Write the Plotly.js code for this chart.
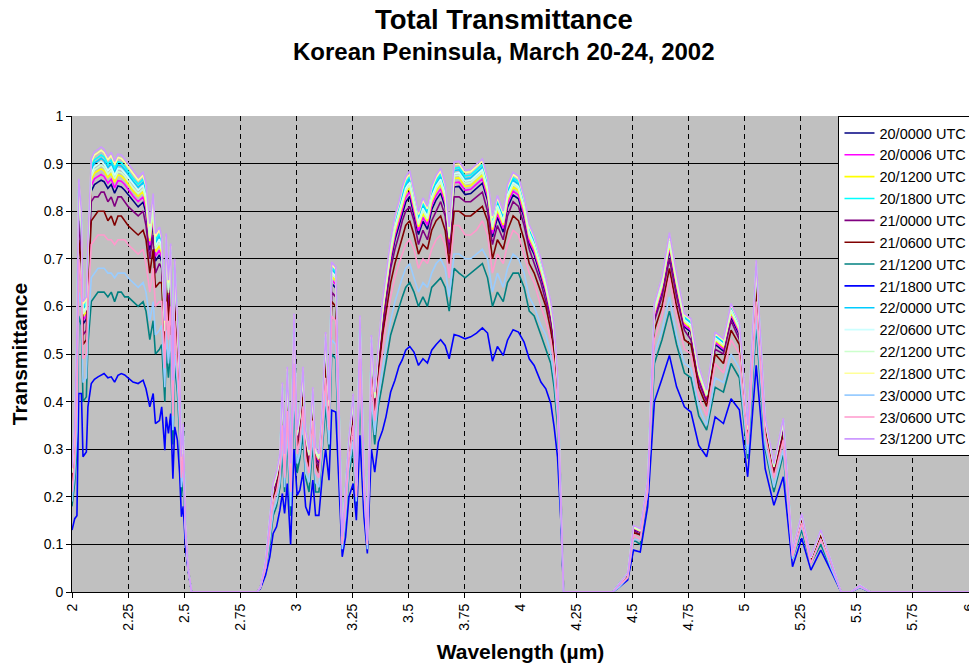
<!DOCTYPE html>
<html>
<head>
<meta charset="utf-8">
<script src="https://cdn.plot.ly/plotly-3.0.1.min.js"></script>
<style>html,body{margin:0;padding:0;background:#fff;}#chart{width:969px;height:669px;}</style>
</head>
<body>
<div id="chart"></div>
<script>
// Wavelength (µm)
const wavelength = [
2.000,2.012,2.022,2.030,2.042,2.049,2.064,2.071,2.086,2.100,
2.116,2.130,2.143,2.160,2.175,2.190,2.205,2.220,2.235,2.250,
2.272,2.295,2.317,2.330,2.347,2.362,2.372,2.390,2.400,2.414,
2.420,2.430,2.440,2.450,2.458,2.470,2.480,2.488,2.496,2.506,
2.518,2.533,2.826,2.840,2.863,2.882,2.897,2.912,2.927,2.938,
2.948,2.960,2.975,2.990,3.004,3.016,3.030,3.042,3.057,3.074,
3.086,3.101,3.116,3.131,3.146,3.158,3.176,3.205,3.220,3.235,
3.254,3.268,3.284,3.302,3.317,3.335,3.350,3.366,3.385,3.400,
3.421,3.440,3.458,3.473,3.488,3.506,3.525,3.545,3.565,3.585,
3.604,3.624,3.644,3.664,3.682,3.704,3.726,3.753,3.778,3.804,
3.830,3.853,3.875,3.897,3.923,3.942,3.967,3.991,4.016,4.039,
4.061,4.091,4.113,4.135,4.150,4.165,4.180,4.192,4.411,4.440,
4.478,4.504,4.534,4.567,4.597,4.631,4.664,4.696,4.731,4.760,
4.795,4.830,4.868,4.905,4.939,4.976,5.013,5.051,5.091,5.130,
5.172,5.213,5.254,5.295,5.339,5.385,5.430,5.473,5.513,5.560,6.000];

const s20_0000 = [
0.241,0.322,0.493,0.803,0.744,0.563,0.573,0.689,0.842,0.856,
0.861,0.865,0.862,0.848,0.856,0.838,0.853,0.851,0.844,0.835,
0.821,0.809,0.819,0.796,0.718,0.776,0.695,0.708,0.694,0.531,
0.697,0.608,0.68,0.415,0.649,0.547,0.441,0.266,0.329,0.137,
0.049,0,0,0.01,0.062,0.146,0.213,0.235,0.273,0.406,
0.272,0.437,0.245,0.544,0.32,0.356,0.441,0.317,0.278,0.402,
0.284,0.271,0.368,0.51,0.379,0.648,0.639,0.11,0.20,0.308,
0.39,0.217,0.544,0.248,0.105,0.505,0.396,0.49,0.573,0.626,
0.694,0.74,0.77,0.798,0.819,0.831,0.795,0.751,0.779,0.762,
0.803,0.824,0.838,0.809,0.727,0.851,0.852,0.835,0.837,0.847,
0.859,0.823,0.746,0.787,0.756,0.808,0.834,0.826,0.786,0.731,
0.709,0.662,0.626,0.579,0.529,0.434,0.21,0,0,0.017,
0.038,0.132,0.126,0.227,0.576,0.631,0.718,0.635,0.557,0.546,
0.449,0.404,0.52,0.506,0.577,0.54,0.334,0.665,0.352,0.257,
0.347,0.083,0.158,0.07,0.124,0.062,0,0,0.013,0,0];

const s20_0006 = [
0.244,0.326,0.503,0.814,0.754,0.571,0.581,0.698,0.853,0.868,
0.873,0.877,0.873,0.859,0.867,0.849,0.864,0.863,0.856,0.846,
0.832,0.82,0.83,0.806,0.728,0.787,0.705,0.718,0.703,0.537,
0.707,0.616,0.689,0.42,0.658,0.553,0.446,0.269,0.333,0.138,
0.049,0,0,0.01,0.062,0.148,0.215,0.238,0.276,0.412,
0.275,0.444,0.25,0.551,0.324,0.36,0.446,0.321,0.282,0.407,
0.288,0.275,0.371,0.516,0.383,0.656,0.646,0.111,0.202,0.311,
0.394,0.219,0.551,0.25,0.106,0.511,0.40,0.495,0.58,0.634,
0.702,0.749,0.779,0.807,0.828,0.841,0.803,0.759,0.787,0.771,
0.812,0.833,0.847,0.817,0.734,0.86,0.861,0.844,0.846,0.856,
0.868,0.831,0.753,0.795,0.764,0.816,0.842,0.834,0.793,0.738,
0.715,0.669,0.632,0.584,0.534,0.439,0.212,0,0,0.017,
0.038,0.134,0.127,0.228,0.581,0.636,0.724,0.641,0.561,0.55,
0.453,0.407,0.525,0.511,0.582,0.545,0.337,0.67,0.355,0.259,
0.35,0.084,0.159,0.071,0.125,0.063,0,0,0.013,0,0];

const s20_1200 = [
0.248,0.331,0.513,0.825,0.764,0.579,0.589,0.707,0.865,0.88,
0.885,0.889,0.885,0.871,0.879,0.861,0.876,0.874,0.867,0.857,
0.843,0.831,0.841,0.817,0.737,0.797,0.715,0.728,0.712,0.544,
0.716,0.624,0.698,0.425,0.666,0.56,0.452,0.272,0.337,0.139,
0.05,0,0,0.01,0.063,0.15,0.218,0.241,0.279,0.418,
0.278,0.45,0.254,0.558,0.327,0.364,0.452,0.325,0.285,0.411,
0.291,0.278,0.375,0.523,0.387,0.663,0.654,0.112,0.205,0.314,
0.399,0.221,0.557,0.253,0.106,0.517,0.404,0.501,0.587,0.641,
0.71,0.757,0.787,0.817,0.838,0.85,0.812,0.767,0.796,0.779,
0.82,0.842,0.856,0.826,0.741,0.869,0.87,0.852,0.854,0.864,
0.876,0.839,0.761,0.803,0.771,0.824,0.851,0.843,0.801,0.745,
0.722,0.675,0.638,0.59,0.54,0.443,0.213,0,0,0.017,
0.039,0.135,0.128,0.23,0.586,0.642,0.73,0.647,0.566,0.555,
0.457,0.411,0.529,0.515,0.587,0.55,0.34,0.676,0.358,0.262,
0.353,0.085,0.16,0.071,0.126,0.063,0,0,0.014,0,0];

const s20_1800 = [
0.255,0.343,0.536,0.852,0.787,0.599,0.609,0.728,0.893,0.908,
0.913,0.918,0.914,0.899,0.907,0.889,0.904,0.902,0.894,0.884,
0.869,0.857,0.867,0.843,0.761,0.822,0.739,0.753,0.734,0.56,
0.74,0.644,0.72,0.438,0.688,0.576,0.465,0.28,0.348,0.142,
0.05,0,0,0.01,0.065,0.155,0.224,0.248,0.286,0.432,
0.286,0.464,0.264,0.575,0.335,0.374,0.465,0.334,0.293,0.423,
0.30,0.285,0.384,0.537,0.397,0.682,0.672,0.115,0.211,0.322,
0.41,0.225,0.572,0.259,0.108,0.532,0.414,0.513,0.603,0.659,
0.729,0.778,0.808,0.838,0.859,0.872,0.832,0.787,0.816,0.798,
0.841,0.864,0.877,0.846,0.757,0.89,0.892,0.874,0.876,0.886,
0.898,0.859,0.779,0.822,0.789,0.844,0.87,0.862,0.819,0.762,
0.738,0.691,0.652,0.603,0.553,0.454,0.218,0,0,0.018,
0.04,0.138,0.131,0.233,0.599,0.655,0.746,0.662,0.578,0.567,
0.467,0.419,0.54,0.526,0.599,0.561,0.346,0.689,0.364,0.267,
0.361,0.087,0.163,0.073,0.129,0.064,0,0,0.014,0,0];

const s21_0000 = [
0.23,0.31,0.47,0.78,0.72,0.54,0.55,0.67,0.82,0.83,
0.83,0.84,0.84,0.82,0.83,0.81,0.83,0.83,0.82,0.81,
0.80,0.79,0.80,0.77,0.70,0.75,0.67,0.69,0.68,0.52,
0.68,0.59,0.66,0.40,0.63,0.53,0.43,0.26,0.32,0.13,
0.05,0,0,0.01,0.06,0.14,0.21,0.23,0.27,0.39,
0.27,0.42,0.24,0.53,0.31,0.35,0.43,0.31,0.27,0.39,
0.28,0.26,0.36,0.50,0.37,0.63,0.62,0.11,0.19,0.30,
0.38,0.21,0.53,0.24,0.10,0.49,0.39,0.48,0.56,0.61,
0.68,0.72,0.75,0.78,0.80,0.81,0.78,0.73,0.76,0.74,
0.78,0.80,0.82,0.79,0.71,0.83,0.83,0.82,0.82,0.83,
0.84,0.80,0.73,0.77,0.74,0.79,0.82,0.81,0.77,0.72,
0.69,0.65,0.61,0.57,0.52,0.43,0.21,0,0,0.016,
0.037,0.13,0.12,0.22,0.57,0.62,0.70,0.62,0.55,0.53,
0.44,0.40,0.51,0.50,0.57,0.53,0.33,0.65,0.35,0.25,
0.34,0.081,0.155,0.068,0.122,0.061,0,0,0.013,0,0];

const s21_0600 = [
0.22,0.30,0.44,0.74,0.69,0.52,0.53,0.64,0.78,0.79,
0.80,0.80,0.80,0.78,0.79,0.77,0.79,0.79,0.78,0.77,
0.76,0.75,0.76,0.74,0.67,0.72,0.64,0.65,0.65,0.49,
0.65,0.57,0.63,0.39,0.60,0.51,0.41,0.25,0.31,0.13,
0.05,0,0,0.01,0.06,0.13,0.20,0.22,0.26,0.38,
0.26,0.40,0.22,0.51,0.30,0.33,0.41,0.30,0.26,0.38,
0.27,0.25,0.35,0.48,0.36,0.61,0.60,0.10,0.19,0.29,
0.36,0.21,0.51,0.23,0.10,0.47,0.37,0.46,0.54,0.59,
0.65,0.69,0.72,0.75,0.77,0.78,0.75,0.71,0.73,0.72,
0.76,0.78,0.79,0.76,0.69,0.80,0.80,0.79,0.79,0.80,
0.81,0.78,0.70,0.74,0.72,0.76,0.79,0.78,0.74,0.69,
0.67,0.63,0.60,0.55,0.50,0.41,0.20,0,0,0.016,
0.036,0.125,0.12,0.22,0.55,0.60,0.68,0.60,0.53,0.52,
0.43,0.39,0.50,0.48,0.55,0.52,0.32,0.64,0.34,0.25,
0.33,0.078,0.15,0.066,0.12,0.06,0,0,0.013,0,0];

const s21_1200 = [
0.18,0.23,0.30,0.58,0.56,0.40,0.41,0.52,0.61,0.62,
0.63,0.63,0.63,0.62,0.63,0.61,0.63,0.63,0.62,0.62,
0.61,0.60,0.61,0.59,0.53,0.57,0.50,0.51,0.52,0.40,
0.51,0.45,0.51,0.31,0.48,0.42,0.33,0.20,0.24,0.11,
0.05,0,0,0.01,0.05,0.10,0.16,0.18,0.22,0.29,
0.21,0.32,0.16,0.41,0.25,0.28,0.33,0.24,0.21,0.31,
0.21,0.21,0.30,0.39,0.30,0.50,0.49,0.09,0.15,0.25,
0.30,0.18,0.42,0.20,0.09,0.39,0.31,0.39,0.44,0.48,
0.54,0.57,0.60,0.62,0.64,0.65,0.63,0.60,0.62,0.60,
0.64,0.65,0.66,0.64,0.59,0.68,0.67,0.66,0.67,0.68,
0.69,0.66,0.60,0.63,0.61,0.65,0.67,0.67,0.64,0.59,
0.58,0.54,0.51,0.48,0.43,0.35,0.18,0,0,0.01,
0.03,0.11,0.10,0.20,0.48,0.53,0.59,0.52,0.46,0.45,
0.37,0.34,0.43,0.42,0.48,0.45,0.28,0.56,0.30,0.21,
0.29,0.07,0.13,0.06,0.10,0.05,0,0,0.01,0,0];

const s21_1800 = [
0.13,0.154,0.16,0.417,0.417,0.284,0.294,0.389,0.438,0.447,
0.452,0.455,0.459,0.45,0.452,0.441,0.455,0.459,0.456,0.45,
0.441,0.438,0.445,0.427,0.389,0.417,0.354,0.36,0.389,0.298,
0.368,0.333,0.375,0.238,0.347,0.319,0.249,0.158,0.18,0.095,
0.045,0,0,0.007,0.035,0.074,0.123,0.137,0.172,0.207,
0.165,0.228,0.10,0.30,0.203,0.214,0.252,0.179,0.161,0.235,
0.161,0.161,0.242,0.30,0.235,0.382,0.378,0.074,0.116,0.20,
0.228,0.151,0.329,0.158,0.081,0.30,0.252,0.315,0.34,0.368,
0.42,0.445,0.474,0.488,0.508,0.516,0.504,0.476,0.49,0.481,
0.508,0.52,0.53,0.518,0.49,0.541,0.538,0.532,0.536,0.544,
0.555,0.544,0.485,0.516,0.497,0.529,0.551,0.546,0.525,0.49,
0.476,0.441,0.427,0.396,0.347,0.284,0.15,0,0,0.01,
0.025,0.088,0.084,0.179,0.40,0.448,0.497,0.431,0.389,0.378,
0.308,0.284,0.368,0.354,0.406,0.383,0.242,0.476,0.259,0.182,
0.242,0.053,0.113,0.046,0.088,0.044,0,0,0.01,0,0];

const s22_0000 = [
0.254,0.34,0.53,0.845,0.781,0.594,0.604,0.722,0.886,0.901,
0.906,0.911,0.906,0.892,0.90,0.882,0.897,0.895,0.887,0.877,
0.863,0.85,0.86,0.836,0.755,0.816,0.733,0.747,0.728,0.556,
0.734,0.639,0.714,0.435,0.682,0.572,0.462,0.278,0.345,0.142,
0.05,0,0,0.01,0.064,0.154,0.223,0.246,0.284,0.428,
0.284,0.461,0.261,0.571,0.333,0.372,0.462,0.332,0.291,0.42,
0.298,0.284,0.382,0.534,0.395,0.677,0.668,0.114,0.209,0.32,
0.408,0.224,0.568,0.258,0.108,0.528,0.412,0.51,0.599,0.655,
0.724,0.773,0.803,0.833,0.854,0.867,0.827,0.782,0.811,0.794,
0.836,0.858,0.872,0.841,0.753,0.885,0.887,0.868,0.87,0.88,
0.892,0.854,0.775,0.817,0.785,0.839,0.865,0.857,0.815,0.758,
0.734,0.687,0.648,0.599,0.549,0.451,0.216,0,0,0.018,
0.039,0.137,0.131,0.232,0.596,0.651,0.742,0.658,0.575,0.564,
0.465,0.417,0.537,0.523,0.596,0.558,0.345,0.686,0.363,0.266,
0.359,0.086,0.162,0.073,0.128,0.064,0,0,0.014,0,0];

const s22_0600 = [
0.252,0.337,0.525,0.839,0.775,0.589,0.599,0.717,0.879,0.894,
0.899,0.904,0.899,0.885,0.893,0.875,0.89,0.888,0.88,0.871,
0.856,0.844,0.854,0.83,0.749,0.81,0.727,0.741,0.723,0.552,
0.728,0.634,0.709,0.432,0.677,0.568,0.458,0.276,0.343,0.141,
0.05,0,0,0.01,0.064,0.153,0.221,0.245,0.282,0.425,
0.282,0.457,0.259,0.566,0.331,0.369,0.459,0.33,0.289,0.417,
0.296,0.282,0.379,0.53,0.392,0.673,0.663,0.113,0.208,0.318,
0.405,0.223,0.565,0.256,0.107,0.524,0.409,0.507,0.595,0.65,
0.719,0.768,0.798,0.827,0.848,0.861,0.822,0.777,0.806,0.789,
0.831,0.853,0.867,0.836,0.749,0.879,0.881,0.863,0.865,0.875,
0.887,0.849,0.77,0.812,0.78,0.834,0.86,0.852,0.81,0.754,
0.73,0.683,0.645,0.596,0.546,0.449,0.215,0,0,0.017,
0.039,0.137,0.13,0.231,0.593,0.648,0.738,0.654,0.572,0.561,
0.462,0.415,0.534,0.52,0.593,0.555,0.343,0.683,0.361,0.264,
0.357,0.086,0.162,0.072,0.127,0.064,0,0,0.014,0,0];

const s22_1200 = [
0.25,0.334,0.519,0.832,0.769,0.584,0.594,0.712,0.872,0.887,
0.892,0.897,0.892,0.878,0.886,0.868,0.883,0.881,0.874,0.864,
0.849,0.837,0.847,0.824,0.743,0.803,0.721,0.734,0.717,0.548,
0.722,0.629,0.703,0.428,0.672,0.564,0.455,0.274,0.34,0.14,
0.05,0,0,0.01,0.064,0.151,0.22,0.243,0.281,0.421,
0.28,0.453,0.256,0.562,0.329,0.367,0.455,0.327,0.287,0.414,
0.293,0.28,0.377,0.526,0.39,0.668,0.659,0.113,0.206,0.316,
0.402,0.222,0.561,0.255,0.107,0.521,0.407,0.504,0.591,0.646,
0.714,0.762,0.792,0.822,0.843,0.855,0.817,0.772,0.801,0.784,
0.825,0.848,0.861,0.831,0.745,0.874,0.876,0.858,0.86,0.87,
0.882,0.844,0.766,0.808,0.776,0.829,0.856,0.848,0.806,0.749,
0.726,0.679,0.641,0.593,0.543,0.446,0.214,0,0,0.017,
0.039,0.136,0.129,0.231,0.59,0.645,0.734,0.651,0.569,0.558,
0.46,0.413,0.532,0.518,0.59,0.552,0.341,0.679,0.359,0.263,
0.355,0.085,0.161,0.072,0.127,0.063,0,0,0.014,0,0];

const s22_1800 = [
0.258,0.347,0.544,0.861,0.794,0.605,0.615,0.735,0.903,0.918,
0.923,0.928,0.923,0.908,0.917,0.898,0.913,0.911,0.903,0.893,
0.878,0.865,0.875,0.852,0.768,0.831,0.747,0.761,0.741,0.566,
0.747,0.65,0.727,0.442,0.695,0.581,0.47,0.282,0.351,0.143,
0.05,0,0,0.01,0.066,0.157,0.226,0.25,0.288,0.437,
0.288,0.469,0.267,0.581,0.338,0.378,0.47,0.338,0.296,0.427,
0.303,0.288,0.387,0.542,0.40,0.688,0.678,0.115,0.213,0.324,
0.414,0.227,0.577,0.261,0.109,0.536,0.417,0.517,0.609,0.665,
0.735,0.785,0.815,0.846,0.867,0.879,0.839,0.793,0.823,0.805,
0.848,0.871,0.885,0.853,0.763,0.898,0.899,0.881,0.883,0.893,
0.905,0.865,0.785,0.828,0.795,0.85,0.877,0.869,0.825,0.768,
0.744,0.696,0.657,0.607,0.557,0.457,0.219,0,0,0.018,
0.04,0.139,0.132,0.234,0.603,0.659,0.751,0.666,0.582,0.571,
0.471,0.422,0.543,0.529,0.603,0.564,0.348,0.694,0.366,0.269,
0.363,0.088,0.164,0.074,0.129,0.065,0,0,0.014,0,0];

const s23_0000 = [
0.19,0.25,0.34,0.63,0.60,0.44,0.45,0.55,0.66,0.67,
0.68,0.68,0.68,0.67,0.67,0.66,0.67,0.67,0.67,0.66,
0.65,0.64,0.65,0.63,0.57,0.61,0.54,0.55,0.56,0.43,
0.55,0.48,0.54,0.34,0.51,0.44,0.35,0.22,0.26,0.12,
0.05,0,0,0.01,0.05,0.11,0.17,0.19,0.23,0.32,
0.22,0.34,0.18,0.43,0.27,0.29,0.36,0.25,0.23,0.33,
0.23,0.22,0.31,0.42,0.31,0.53,0.52,0.09,0.16,0.26,
0.32,0.19,0.45,0.21,0.09,0.41,0.33,0.41,0.47,0.51,
0.57,0.61,0.64,0.66,0.68,0.69,0.66,0.63,0.65,0.64,
0.67,0.69,0.70,0.68,0.62,0.71,0.71,0.70,0.70,0.71,
0.72,0.70,0.63,0.67,0.64,0.68,0.71,0.70,0.67,0.62,
0.60,0.56,0.54,0.50,0.45,0.37,0.18,0,0,0.01,
0.03,0.11,0.11,0.21,0.50,0.55,0.62,0.54,0.48,0.47,
0.39,0.35,0.45,0.44,0.50,0.47,0.29,0.58,0.31,0.22,
0.30,0.07,0.14,0.06,0.11,0.05,0,0,0.01,0,0];

const s23_0600 = [
0.21,0.28,0.40,0.70,0.65,0.49,0.50,0.61,0.73,0.74,
0.75,0.75,0.75,0.74,0.74,0.73,0.74,0.74,0.74,0.73,
0.72,0.71,0.72,0.69,0.63,0.68,0.60,0.61,0.61,0.47,
0.61,0.53,0.60,0.37,0.57,0.48,0.39,0.24,0.29,0.13,
0.05,0,0,0.01,0.05,0.13,0.19,0.21,0.25,0.35,
0.24,0.38,0.21,0.48,0.29,0.32,0.39,0.28,0.25,0.36,
0.25,0.24,0.33,0.45,0.34,0.58,0.57,0.10,0.18,0.28,
0.35,0.20,0.49,0.22,0.10,0.45,0.36,0.44,0.51,0.56,
0.62,0.66,0.69,0.71,0.73,0.74,0.72,0.68,0.70,0.69,
0.72,0.74,0.75,0.73,0.66,0.77,0.77,0.75,0.75,0.76,
0.78,0.75,0.67,0.71,0.69,0.73,0.76,0.75,0.71,0.67,
0.65,0.60,0.57,0.53,0.48,0.39,0.19,0,0,0.015,
0.03,0.12,0.11,0.21,0.53,0.58,0.66,0.58,0.51,0.50,
0.41,0.37,0.48,0.46,0.53,0.50,0.31,0.61,0.33,0.24,
0.32,0.075,0.145,0.06,0.11,0.06,0,0,0.012,0,0];

const s23_1200 = [
0.26,0.35,0.55,0.868,0.80,0.61,0.62,0.74,0.91,0.925,
0.93,0.935,0.93,0.915,0.924,0.905,0.92,0.918,0.91,0.90,
0.885,0.872,0.882,0.858,0.774,0.837,0.753,0.767,0.746,0.57,
0.753,0.655,0.732,0.445,0.70,0.585,0.473,0.284,0.354,0.144,
0.05,0,0,0.01,0.066,0.158,0.228,0.252,0.29,0.44,
0.29,0.473,0.27,0.585,0.34,0.38,0.473,0.34,0.298,0.43,
0.305,0.29,0.389,0.546,0.403,0.693,0.683,0.116,0.214,0.326,
0.417,0.228,0.581,0.263,0.109,0.54,0.42,0.52,0.613,0.67,
0.74,0.79,0.82,0.851,0.872,0.885,0.844,0.798,0.828,0.81,
0.853,0.876,0.89,0.858,0.767,0.903,0.905,0.886,0.888,0.898,
0.91,0.87,0.79,0.833,0.80,0.855,0.882,0.874,0.83,0.772,
0.748,0.70,0.66,0.61,0.56,0.46,0.22,0,0,0.018,
0.04,0.14,0.133,0.235,0.606,0.662,0.755,0.67,0.585,0.574,
0.473,0.424,0.546,0.532,0.606,0.567,0.35,0.697,0.368,0.27,
0.365,0.088,0.165,0.074,0.13,0.065,0,0,0.014,0,0];

const seriesNames = ["20/0000 UTC","20/0006 UTC","20/1200 UTC","20/1800 UTC","21/0000 UTC","21/0600 UTC","21/1200 UTC","21/1800 UTC","22/0000 UTC","22/0600 UTC","22/1200 UTC","22/1800 UTC","23/0000 UTC","23/0600 UTC","23/1200 UTC"];
const seriesValues = [s20_0000,s20_0006,s20_1200,s20_1800,s21_0000,s21_0600,s21_1200,s21_1800,s22_0000,s22_0600,s22_1200,s22_1800,s23_0000,s23_0600,s23_1200];
const seriesColors = ["#000080","#FF00FF","#FFFF00","#00FFFF","#800080","#800000","#008080","#0000FF","#00CCFF","#CCFFFF","#CCFFCC","#FFFF99","#99CCFF","#FF99CC","#CC99FF"];

const traces = seriesNames.map((n, i) => ({
  type: "scatter", mode: "lines", name: n,
  x: wavelength, y: seriesValues[i],
  line: {color: seriesColors[i], width: 1.6},
  hoverinfo: "skip"
}));

const FONT = "Arial, 'Liberation Sans', sans-serif";
const layout = {
  width: 969, height: 669,
  margin: {l: 72, r: 0, t: 116, b: 77, autoexpand: false},
  paper_bgcolor: "#ffffff",
  plot_bgcolor: "#C0C0C0",
  font: {family: FONT, color: "#000", size: 14},
  showlegend: true,
  legend: {
    x: 0.8545, xanchor: "left", y: 1.0, yanchor: "top",
    bgcolor: "#ffffff", bordercolor: "#000000", borderwidth: 1,
    font: {family: FONT, size: 14.5, color: "#000"},
    itemwidth: 30, tracegroupgap: 0
  },
  xaxis: {
    range: [2, 6], dtick: 0.25, tick0: 2,
    tickangle: -90, ticks: "outside", ticklen: 5, tickcolor: "#000",
    ticklabeloverflow: "allow",
    showgrid: true, gridcolor: "#000000", gridwidth: 1, griddash: "5px,4px",
    showline: true, linecolor: "#000", linewidth: 1,
    zeroline: false, automargin: false,
    tickfont: {family: FONT, size: 14, color: "#000"},
    title: {text: "<b>Wavelength (µm)</b>", font: {family: FONT, size: 21, color: "#000"}, standoff: 14}
  },
  yaxis: {
    range: [0, 1], dtick: 0.1, tick0: 0,
    ticks: "outside", ticklen: 5, tickcolor: "#000",
    showgrid: true, gridcolor: "#000000", gridwidth: 1,
    showline: true, linecolor: "#000", linewidth: 1,
    zeroline: false, automargin: false,
    tickfont: {family: FONT, size: 14, color: "#000"},
    title: {text: "<b>Transmittance</b>", font: {family: FONT, size: 21, color: "#000"}, standoff: 10}
  },
  annotations: [
    {text: "<b>Total Transmittance</b>", xref: "paper", yref: "paper", x: 0.4816, y: 1.2017,
     xanchor: "center", yanchor: "middle", showarrow: false, font: {family: FONT, size: 27.5, color: "#000"}},
    {text: "<b>Korean Peninsula, March 20-24, 2002</b>", xref: "paper", yref: "paper", x: 0.4816, y: 1.1345,
     xanchor: "center", yanchor: "middle", showarrow: false, font: {family: FONT, size: 24, color: "#000"}}
  ]
};

Plotly.newPlot("chart", traces, layout, {staticPlot: true, displayModeBar: false});
</script>
</body>
</html>
